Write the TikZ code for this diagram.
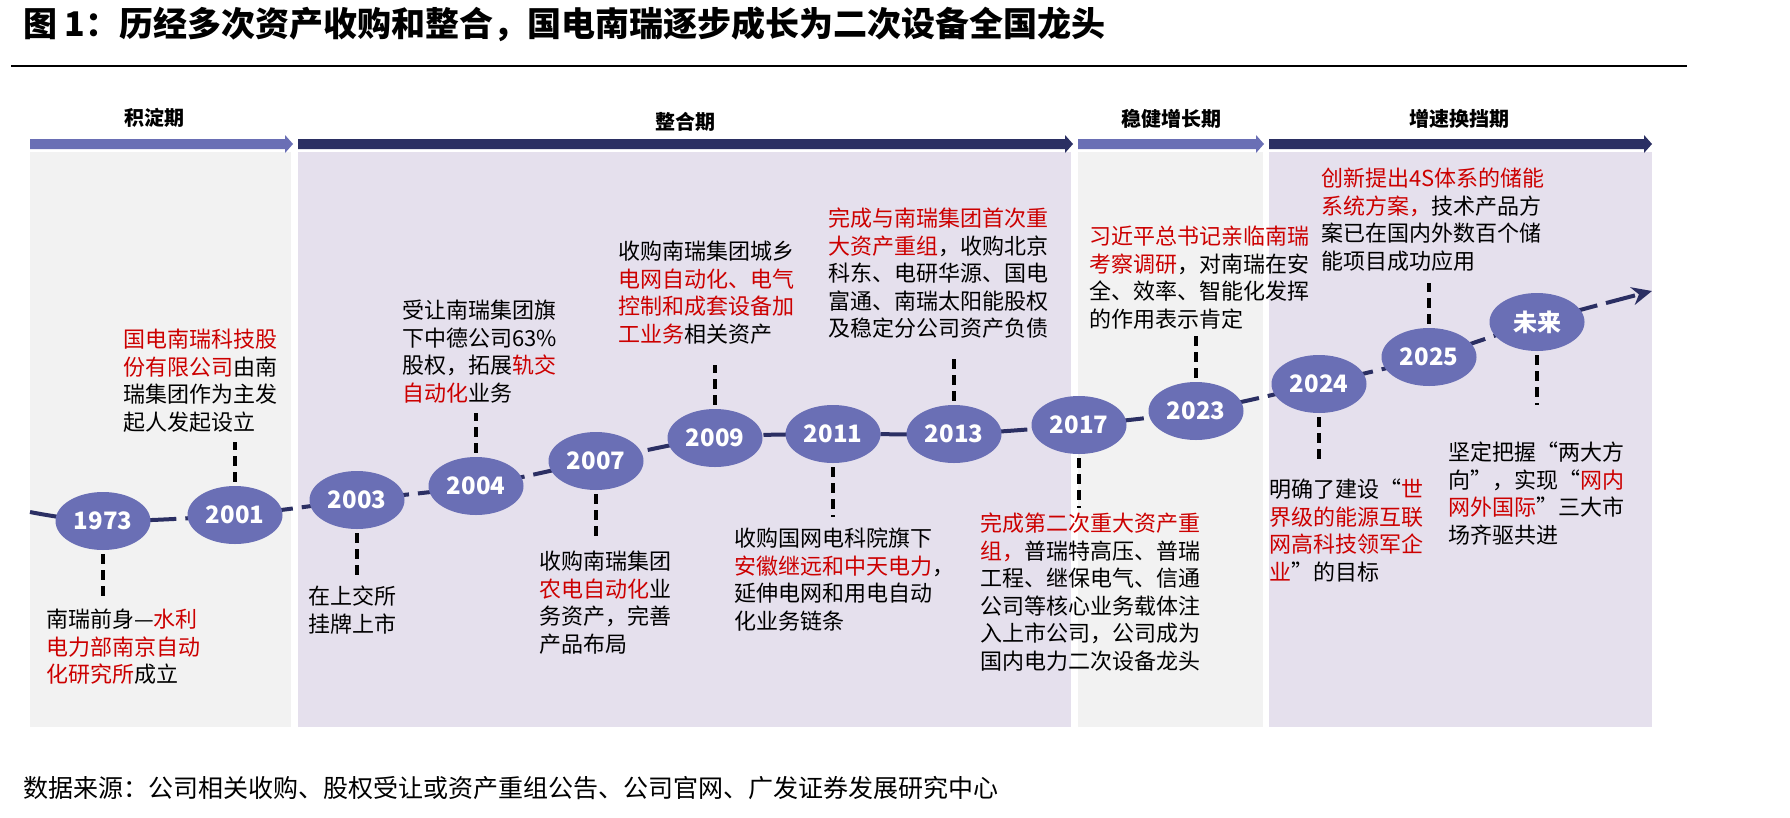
\documentclass[tikz,border=0pt]{standalone}
\usepackage{fontspec}
\setmainfont{Noto Sans CJK SC}
\usetikzlibrary{shapes.geometric,arrows.meta,backgrounds}
\definecolor{navy}{RGB}{43,47,99}
\definecolor{lav}{RGB}{106,111,181}
\definecolor{ellfill}{RGB}{106,111,181}
\definecolor{pgray}{RGB}{242,242,242}
\definecolor{plav}{RGB}{229,224,237}
\definecolor{hred}{RGB}{204,0,0}
\newcommand{\hr}[1]{\textcolor{hred}{#1}}
\begin{document}
\begin{tikzpicture}[x=1pt,y=-1pt,
  yr/.style={ellipse, fill=ellfill, minimum width=95pt, minimum height=58pt, inner sep=0pt, text=white, font=\fontsize{24}{24}\selectfont\bfseries},
  note/.style={anchor=north west, align=left, inner sep=0pt, font=\fontsize{22}{27.5}\selectfont},
  tick/.style={line width=3.5pt, dash pattern=on 10pt off 6pt, black, shorten <=4pt},
  phase/.style={inner sep=0pt, font=\fontsize{20}{20}\selectfont\bfseries},
  tline/.style={line width=4pt, navy, dash pattern=on 30pt off 9pt},
]
\useasboundingbox (0,0) rectangle (1790,817);

\begin{pgfonlayer}{background}
\fill[white] (0,0) rectangle (1790,817);
% panels
\fill[pgray] (30,152) rectangle (291,727);
\fill[plav] (298,152) rectangle (1071,727);
\fill[pgray] (1078,152) rectangle (1263,727);
\fill[plav] (1269,152) rectangle (1652,727);
\end{pgfonlayer}

% title and rule
\node[anchor=west, inner sep=0pt, font=\fontsize{34}{34}\selectfont\bfseries] (title) at (23,24) {图 1：历经多次资产收购和整合，国电南瑞逐步成长为二次设备全国龙头};
\draw[line width=2pt] (11,66) -- (1687,66);

% header arrows
\fill[lav] (30,139) -- (285,139) -- (285,135) -- (293,144) -- (285,153) -- (285,149) -- (30,149) -- cycle;
\fill[navy] (298,139) -- (1065,139) -- (1065,135) -- (1073,144) -- (1065,153) -- (1065,149) -- (298,149) -- cycle;
\fill[lav] (1078,139) -- (1256,139) -- (1256,135) -- (1264,144) -- (1256,153) -- (1256,149) -- (1078,149) -- cycle;
\fill[navy] (1269,139) -- (1644,139) -- (1644,135) -- (1652,144) -- (1644,153) -- (1644,149) -- (1269,149) -- cycle;

\node[phase] (p1) at (154,118) {积淀期};
\node[phase] (p2) at (685,122) {整合期};
\node[phase] (p3) at (1171,119) {稳健增长期};
\node[phase] (p4) at (1459,119) {增速换挡期};

% year ellipses
\node[yr] (y1973) at (103,521) {1973};
\node[yr] (y2001) at (235,515) {2001};
\node[yr] (y2003) at (357,500) {2003};
\node[yr] (y2004) at (476,486) {2004};
\node[yr] (y2007) at (596,461) {2007};
\node[yr] (y2009) at (715,438) {2009};
\node[yr] (y2011) at (833,434) {2011};
\node[yr] (y2013) at (954,434) {2013};
\node[yr] (y2017) at (1079,425) {2017};
\node[yr] (y2023) at (1196,411) {2023};
\node[yr] (y2024) at (1319,384) {2024};
\node[yr] (y2025) at (1429,357) {2025};
\node[yr] (yfut) at (1537,322) {未来};

\coordinate (tlstart) at (30,512);
\coordinate (tlend) at (1652,291);

\begin{pgfonlayer}{background}
\draw[tline, -{Stealth[length=20pt,width=18pt]}] plot[smooth, tension=0.55] coordinates {(tlstart) (y1973.center) (y2001.center) (y2003.center) (y2004.center) (y2007.center) (y2009.center) (y2011.center) (y2013.center) (y2017.center) (y2023.center) (y2024.center) (y2025.center) (yfut.center) (tlend)};
\end{pgfonlayer}

% tick coordinates
\coordinate (t1973) at (103,602);
\coordinate (t2001) at (235,442);
\coordinate (t2003) at (357,577);
\coordinate (t2004) at (476,413);
\coordinate (t2007) at (596,539);
\coordinate (t2009) at (715,365);
\coordinate (t2011) at (833,517);
\coordinate (t2013) at (954,354);
\coordinate (t2017) at (1079,508);
\coordinate (t2023) at (1196,333);
\coordinate (t2024) at (1319,462);
\coordinate (t2025) at (1429,283);
\coordinate (tfut) at (1537,405);
\foreach \n in {1973,2001,2003,2004,2007,2009,2011,2013,2017,2023,2024,2025,fut}
  \draw[tick] (y\n) -- (t\n);

% notes
\node[note] (n1973) at (46,609) {南瑞前身—\hr{水利}\\\hr{电力部南京自动}\\\hr{化研究所}成立};
\node[note] (n2001) at (123,329) {\hr{国电南瑞科技股}\\\hr{份有限公司}由南\\瑞集团作为主发\\起人发起设立};
\node[note] (n2003) at (308,586) {在上交所\\挂牌上市};
\node[note] (n2004) at (402,300) {受让南瑞集团旗\\下中德公司63\%\\股权，拓展\hr{轨交}\\\hr{自动化}业务};
\node[note] (n2007) at (539,551) {收购南瑞集团\\\hr{农电自动化}业\\务资产，完善\\产品布局};
\node[note] (n2009) at (618,241) {收购南瑞集团城乡\\\hr{电网自动化、电气}\\\hr{控制和成套设备加}\\\hr{工业务}相关资产};
\node[note] (n2011) at (734,528) {收购国网电科院旗下\\\hr{安徽继远和中天电力}，\\延伸电网和用电自动\\化业务链条};
\node[note] (n2013) at (828,208) {\hr{完成与南瑞集团首次重}\\\hr{大资产重组}，收购北京\\科东、电研华源、国电\\富通、南瑞太阳能股权\\及稳定分公司资产负债};
\node[note] (n2017) at (980,513) {\hr{完成第二次重大资产重}\\\hr{组，}普瑞特高压、普瑞\\工程、继保电气、信通\\公司等核心业务载体注\\入上市公司，公司成为\\国内电力二次设备龙头};
\node[note] (n2023) at (1089,226) {\hr{习近平总书记亲临南瑞}\\\hr{考察调研}，对南瑞在安\\全、效率、智能化发挥\\的作用表示肯定};
\node[note] (n2024) at (1269,479) {明确了建设“\hr{世}\\\hr{界级的能源互联}\\\hr{网高科技领军企}\\\hr{业}”的目标};
\node[note] (n2025) at (1321,168) {\hr{创新提出4S体系的储能}\\\hr{系统方案，}技术产品方\\案已在国内外数百个储\\能项目成功应用};
\node[note] (nfut) at (1448,442) {坚定把握“两大方\\向”，实现“\hr{网内}\\\hr{网外国际}”三大市\\场齐驱共进};

% source
\node[anchor=west, inner sep=0pt, font=\fontsize{25}{25}\selectfont] (src) at (23,788) {数据来源：公司相关收购、股权受让或资产重组公告、公司官网、广发证券发展研究中心};
\end{tikzpicture}
\end{document}
